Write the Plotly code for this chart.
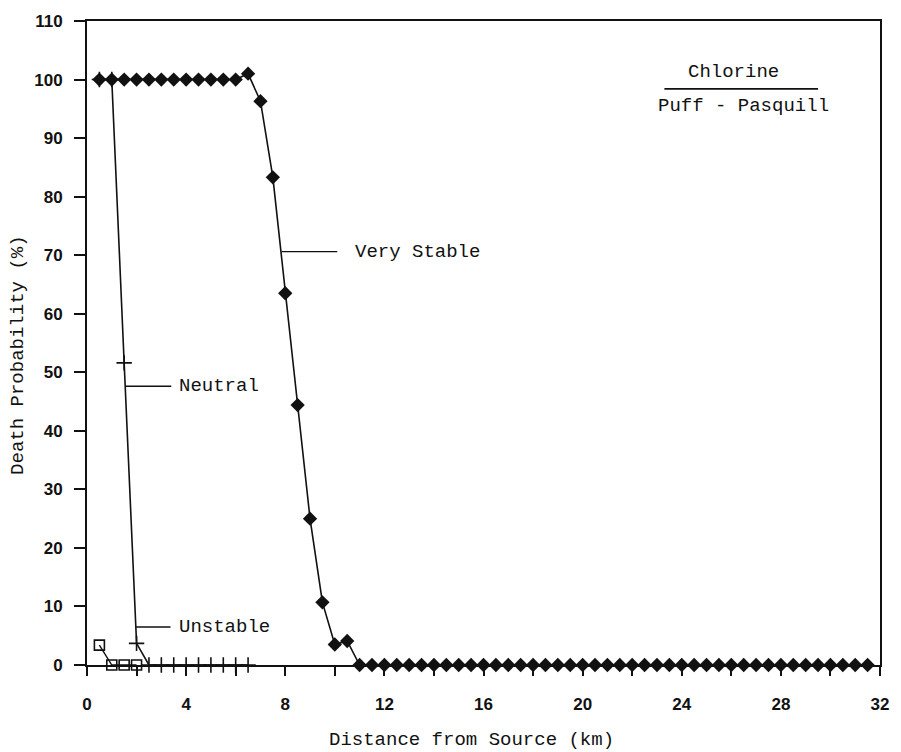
import plotly.graph_objects as go

# ---- data ----
very_stable_x = [0.5 * i for i in range(1, 64)]  # 0.5 .. 31.5
very_stable_y = ([100] * 12 +
                 [101, 96.3, 83.3, 63.5, 44.4, 25.0, 10.7, 3.5, 4.1] +
                 [0] * 42)

neutral_x = [0.5, 1.0, 1.5, 2.0, 2.5, 3.0, 3.5, 4.0, 4.5, 5.0, 5.5, 6.0, 6.5]
neutral_y = [100, 100, 51.6, 3.7, 0, 0, 0, 0, 0, 0, 0, 0, 0]

unstable_x = [0.5, 1.0, 1.5, 2.0]
unstable_y = [3.4, 0, 0, 0]

x_ticks = [0, 4, 8, 12, 16, 20, 24, 28, 32]
y_ticks = [0, 10, 20, 30, 40, 50, 60, 70, 80, 90, 100, 110]

MONO = "Liberation Mono"
BLACK = "#111111"
LBL = 19

fig = go.Figure()

fig.add_trace(go.Scatter(
    x=very_stable_x, y=very_stable_y, mode="lines+markers", name="Very Stable",
    line=dict(color=BLACK, width=1.6),
    marker=dict(symbol="diamond", size=11, color=BLACK),
    cliponaxis=False, showlegend=False))

fig.add_trace(go.Scatter(
    x=neutral_x, y=neutral_y, mode="lines+markers", name="Neutral",
    line=dict(color=BLACK, width=1.6),
    marker=dict(symbol="cross-thin", size=11, color=BLACK,
                line=dict(color=BLACK, width=1.6)),
    cliponaxis=False, showlegend=False))

fig.add_trace(go.Scatter(
    x=unstable_x, y=unstable_y, mode="lines+markers", name="Unstable",
    line=dict(color=BLACK, width=1.4),
    marker=dict(symbol="square-open", size=10, color=BLACK,
                line=dict(color=BLACK, width=1.6)),
    cliponaxis=False, showlegend=False))

# ---- curve labels with leader lines ----
labels = [
    ("Very Stable", 7.85, 10.1, 10.75, 70.6),
    ("Neutral", 1.55, 3.4, 3.63, 47.6),
    ("Unstable", 1.97, 3.37, 3.63, 6.5),
]
for text, x0, x1, xt, y in labels:
    fig.add_shape(type="line", x0=x0, x1=x1, y0=y, y1=y,
                  line=dict(color=BLACK, width=1.4))
    fig.add_annotation(x=xt, y=y, text=text, showarrow=False,
                       xanchor="left", yanchor="middle",
                       font=dict(family=MONO, size=LBL, color=BLACK))

# header text
fig.add_annotation(x=26.1, y=101.3, text="Chlorine", showarrow=False,
                   xanchor="center", yanchor="middle",
                   font=dict(family=MONO, size=LBL, color=BLACK))
fig.add_shape(type="line", x0=23.3, x1=29.5, y0=98.4, y1=98.4,
              line=dict(color=BLACK, width=1.6))
fig.add_annotation(x=26.5, y=95.5, text="Puff - Pasquill", showarrow=False,
                   xanchor="center", yanchor="middle",
                   font=dict(family=MONO, size=LBL, color=BLACK))

# axis titles
fig.add_annotation(xref="paper", yref="paper", x=0.485, y=-0.1165,
                   text="Distance from Source (km)", showarrow=False,
                   xanchor="center", yanchor="middle",
                   font=dict(family=MONO, size=LBL, color=BLACK))
fig.add_annotation(xref="paper", yref="paper", x=-0.087, y=0.48,
                   text="Death Probability (%)", showarrow=False, textangle=-90,
                   xanchor="center", yanchor="middle",
                   font=dict(family=MONO, size=LBL, color=BLACK))

fig.update_xaxes(
    range=[0, 32], tickmode="array", tickvals=x_ticks,
    ticktext=[str(v) for v in x_ticks],
    ticks="outside", ticklen=9, tickwidth=1.6, tickcolor=BLACK,
    minor=dict(tickmode="linear", tick0=0, dtick=2, ticks="outside",
               ticklen=9, tickwidth=1.6, tickcolor=BLACK),
    showline=True, linewidth=2, linecolor=BLACK, mirror=True,
    showgrid=False, zeroline=False, ticklabelstandoff=14,
    tickfont=dict(family="Liberation Sans", size=17, color=BLACK, weight="bold"))

fig.update_yaxes(
    range=[0, 110], tickmode="array", tickvals=y_ticks,
    ticktext=[str(v) for v in y_ticks],
    ticks="outside", ticklen=11, tickwidth=1.6, tickcolor=BLACK,
    showline=True, linewidth=2, linecolor=BLACK, mirror=True,
    showgrid=False, zeroline=False, ticklabelstandoff=8,
    tickfont=dict(family="Liberation Sans", size=17, color=BLACK, weight="bold"))

fig.update_layout(
    width=901, height=752,
    margin=dict(l=87, r=12, t=21, b=87),
    paper_bgcolor="white", plot_bgcolor="white",
    showlegend=False)

fig.write_html("out.html")
